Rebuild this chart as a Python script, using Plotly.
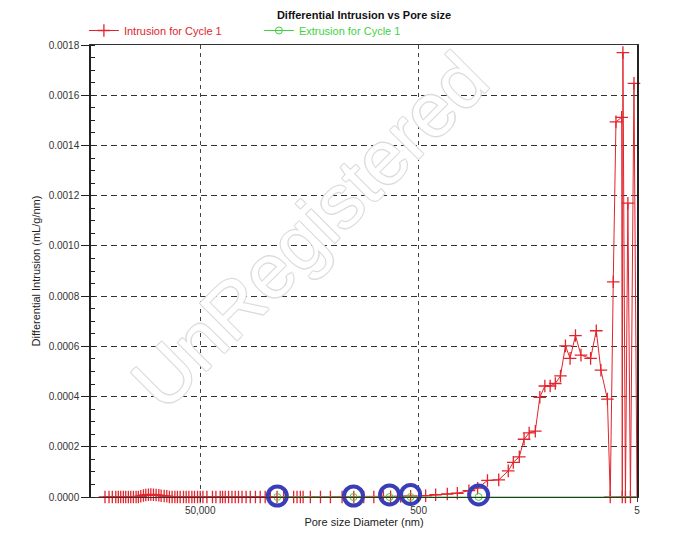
import math
import plotly.graph_objects as go

# ---- data ----
intrusion_d = [372300, 341900, 319000, 296500, 281000, 267200, 252900, 240400, 227500, 216200,
               204600, 193200, 184100, 175000, 165600, 157400, 149000, 141600, 134000, 126700,
               119700, 114000, 106900, 101100, 95700, 90400, 85300, 80800, 76300, 71100,
               67200, 63500, 59600, 56400, 52900, 50000, 47200, 43400, 38600, 35900,
               32800, 31200, 29500, 27500, 25600, 23900, 22300, 20700, 19000, 17400,
               15600, 14100, 12700, 11400, 9890, 8610, 6970, 6490, 6050, 5710,
               4900, 3960, 3210, 2510, 1960, 1590, 1285, 1050, 903, 731,
               592, 431, 349, 273, 221, 173, 144, 117, 92.3, 75.5,
               67.9, 59.8, 54.1, 48.6, 42.7, 38.8, 34.9, 31.2, 28.0, 25.1,
               22.6, 20.5, 18.3, 16.3, 13.3, 11.8, 10.7, 9.33, 8.79, 8.25,
               7.79, 6.91, 6.82, 6.73, 6.38, 6.06, 5.74, 5.33, 5.0]
intrusion_v = [0, 0, 0, 0, 0, 0, 0, 0, 0, 0,
               0, 0, 0, 0.000003, 0.000006, 0.000008, 0.000009, 0.000010, 0.000009, 0.000008,
               0.000007, 0.000005, 0.000004, 0.000003, 0, 0, 0, 0, 0, 0,
               0, 0, 0, 0, 0, 0, 0, 0, 0, 0,
               0, 0, 0, 0, 0, 0, 0, 0, 0, 0,
               0, 0, 0, 0, 0, 0, 0, 0, 0, 0,
               0, 0, 0, 0, 0, 0, 0, 0, 0.000001, 0.000002,
               0.000003, 0.000005, 0.000009, 0.000012, 0.000015, 0.000025, 0.000035, 0.000066, 0.000068, 0.000104,
               0.000138, 0.000160, 0.000230, 0.000255, 0.000262, 0.000397, 0.000442, 0.000442, 0.000452, 0.000482,
               0.000602, 0.000552, 0.000643, 0.000565, 0.000552, 0.000662, 0.000505, 0.000390, 0, 0.000857,
               0.001494, 0.001512, 0, 0.001770, 0, 0.001170, 0, 0.001647, 0]

extrusion_d = [9840, 1973, 922, 592, 141, 5.0]
extrusion_v = [0, 0, 0, 0, 0, 0]

# hand-drawn highlight rings on the picture
highlight_d = [9840, 1973, 922, 592, 141, 5.0]
highlight_v = [0.000004, 0.000004, 0.000008, 0.000010, 0.000008, 0.000008]

y_ticks = [0, 0.0002, 0.0004, 0.0006, 0.0008, 0.0010, 0.0012, 0.0014, 0.0016, 0.0018]
x_tickvals = [50000, 500, 5]
x_ticktext = ["50,000", "500", "5"]
x_max, x_min = 500000, 5

RED = "#e3242c"
GREEN = "#3fd23f"
BLUE = "#3a3db8"
FONT = "Arial, 'Liberation Sans', sans-serif"

fig = go.Figure()
fig.add_trace(go.Scatter(
    x=intrusion_d, y=intrusion_v, mode="lines+markers",
    name='<span style="color:#e3242c">Intrusion for Cycle 1</span>',
    line=dict(color=RED, width=1),
    marker=dict(symbol="cross-thin-open", size=9, color=RED, line=dict(width=1.3, color=RED)),
    cliponaxis=False))
fig.add_trace(go.Scatter(
    x=extrusion_d, y=extrusion_v, mode="lines+markers",
    name='<span style="color:#3fd23f">Extrusion for Cycle 1</span>',
    line=dict(color=GREEN, width=1),
    marker=dict(symbol="circle-open", size=7, color=GREEN, line=dict(width=1, color=GREEN)),
    cliponaxis=False))
fig.add_trace(go.Scatter(
    x=highlight_d, y=highlight_v, mode="markers", showlegend=False, hoverinfo="skip",
    marker=dict(symbol="circle-open", size=19, color=BLUE, line=dict(width=4, color=BLUE)),
    cliponaxis=False))

fig.add_annotation(text="UnRegistered", x=0.40, y=0.59, xref="paper", yref="paper",
                   showarrow=False, textangle=-45,
                   font=dict(size=76, family=FONT, color="white",
                             shadow="1px 1px 0 #dcdcdc, -1px -1px 0 #dcdcdc, 1px -1px 0 #dcdcdc, -1px 1px 0 #dcdcdc"))

# the page body adds an 8px offset, so margins are reduced accordingly
fig.update_layout(
    width=678, height=552,
    margin=dict(l=83, r=49, t=37, b=63, autoexpand=False),
    paper_bgcolor="white", plot_bgcolor="white",
    font=dict(family=FONT, size=10, color="#333"),
    title=dict(text="<b>Differential Intrusion vs Pore size</b>", x=0.5, xref="paper",
               xanchor="center", y=1 - 7.5 / 552, yref="container", yanchor="middle",
               font=dict(size=11, color="#111")),
    legend=dict(orientation="h", x=-0.013, xanchor="left", y=1.0, yanchor="bottom",
                font=dict(size=11), bgcolor="rgba(0,0,0,0)",
                entrywidth=130, entrywidthmode="pixels"),
    showlegend=True,
)

fig.update_xaxes(
    type="log", range=[math.log10(x_max), math.log10(x_min)], automargin=False,
    tickmode="array", tickvals=x_tickvals, ticktext=x_ticktext,
    showgrid=True, gridcolor="#444", griddash="4px,4px", gridwidth=1,
    showline=True, linecolor="#333", linewidth=1, mirror=True,
    ticks="outside", ticklen=4, tickcolor="#333", zeroline=False,
    title=dict(text="Pore size Diameter (nm)", standoff=0, font=dict(size=11, color="#222")),
)
fig.update_yaxes(
    range=[0, 0.0018], tickmode="array", tickvals=y_ticks, tickformat=".4f", automargin=False,
    showgrid=True, gridcolor="#333", griddash="6px,4px", gridwidth=1,
    showline=True, linecolor="#222", linewidth=1.5, mirror=True,
    ticks="outside", ticklen=8, tickcolor="#222", zeroline=False,
    minor=dict(dtick=0.00005, ticks="inside", ticklen=4, tickcolor="#222", showgrid=False),
    title=dict(text="Differential Intrusion (mL/g/nm)", standoff=6, font=dict(size=11, color="#222")),
)

fig.write_html("out.html")
